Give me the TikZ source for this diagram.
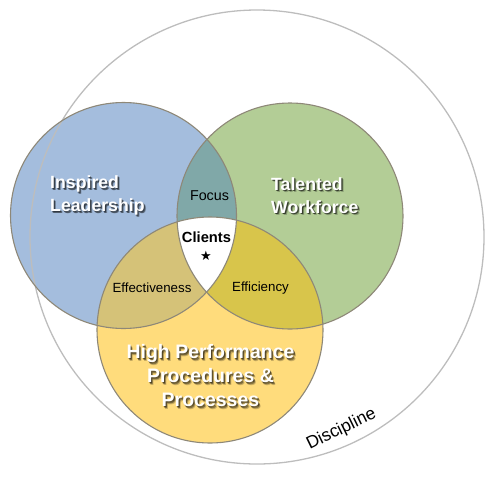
\documentclass[tikz,border=0pt]{standalone}
\usepackage{fontspec}
\setmainfont{Liberation Sans}
\newfontfamily\symfont{DejaVu Sans}
\definecolor{cblue}{HTML}{A4BDDD}
\definecolor{cgreen}{HTML}{B3CD96}
\definecolor{cyellow}{HTML}{FFDC7C}
\definecolor{cfocus}{HTML}{80A8A8}
\definecolor{ceff}{HTML}{D5C278}
\definecolor{ceffi}{HTML}{D8C54B}
\definecolor{cring}{HTML}{8E8878}
\definecolor{cbig}{HTML}{BDBDBD}
\tikzset{
  ring/.style={draw=cring, line width=1.1pt},
  bigring/.style={draw=cbig, line width=1.3pt},
  mainlbl/.style={inner sep=0pt, text=white, font=\fontsize{17.7}{23}\selectfont\bfseries, align=left},
  lowlbl/.style={inner sep=0pt, text=white, font=\fontsize{19.5}{24}\selectfont\bfseries, align=center},
  shadow1/.style={text=black, opacity=0.38},
  shadow2/.style={text=black, opacity=0.22},
  smalllbl/.style={inner sep=0pt, text=black, font=\fontsize{13.3}{16}\selectfont},
}
\begin{document}
\begin{tikzpicture}[x=1pt,y=-1pt]
\useasboundingbox (0,0) rectangle (500,477);
\coordinate (B) at (123.5,215.5);
\coordinate (G) at (290,216);
\coordinate (Y) at (210,330);
\coordinate (D) at (257,237);
% base fills
\fill[cblue] (B) circle[radius=113];
\fill[cgreen] (G) circle[radius=113];
\fill[cyellow] (Y) circle[radius=113];
% overlaps
\begin{scope}
  \clip (B) circle[radius=113];
  \fill[cfocus] (G) circle[radius=113];
  \fill[ceff] (Y) circle[radius=113];
\end{scope}
\begin{scope}
  \clip (G) circle[radius=113];
  \fill[ceffi] (Y) circle[radius=113];
\end{scope}
\begin{scope}
  \clip (B) circle[radius=113];
  \clip (G) circle[radius=113];
  \fill[white] (Y) circle[radius=113];
\end{scope}
% big discipline circle
\draw[bigring] (D) circle[radius=227];
% outlines
\draw[ring] (B) circle[radius=113];
\draw[ring] (G) circle[radius=113];
\draw[ring] (Y) circle[radius=113];
% shadowed main labels
\foreach \dx/\dy/\st [count=\i] in {2.2/2.2/shadow2, 1.5/1.5/shadow1, 0.9/0.9/shadow1} {
  \node[mainlbl, \st, anchor=west] (ils\i) at (50+\dx,195.5+\dy) {Inspired\\Leadership};
  \node[mainlbl, \st, anchor=west] (tws\i) at (271+\dx,195.5+\dy) {Talented\\Workforce};
  \node[lowlbl, \st] (hps\i) at (210.5+\dx,376+\dy) {High Performance\\Procedures \&\\Processes};
}
\node[mainlbl, anchor=west] (il) at (50,195.5) {Inspired\\Leadership};
\node[mainlbl, anchor=west] (tw) at (271,195.5) {Talented\\Workforce};
\node[lowlbl] (hp) at (210.5,376) {High Performance\\Procedures \&\\Processes};
% small labels
\node[smalllbl, font=\fontsize{14.3}{16}\selectfont] (focus) at (209.5,196) {Focus};
\node[smalllbl] (effect) at (152,288) {Effectiveness};
\node[smalllbl] (effic) at (260.5,288) {Efficiency};
\node[inner sep=0pt, font=\fontsize{14.7}{16}\selectfont\bfseries] (clients) at (206.5,237) {Clients};
\node[inner sep=0pt, font=\symfont\fontsize{13}{14}\selectfont] (star) at (206,256) {★};
\node[inner sep=0pt, rotate=26, font=\fontsize{17.5}{19}\selectfont] (disc) at (341.5,429.5) {Discipline};
\end{tikzpicture}
\end{document}
